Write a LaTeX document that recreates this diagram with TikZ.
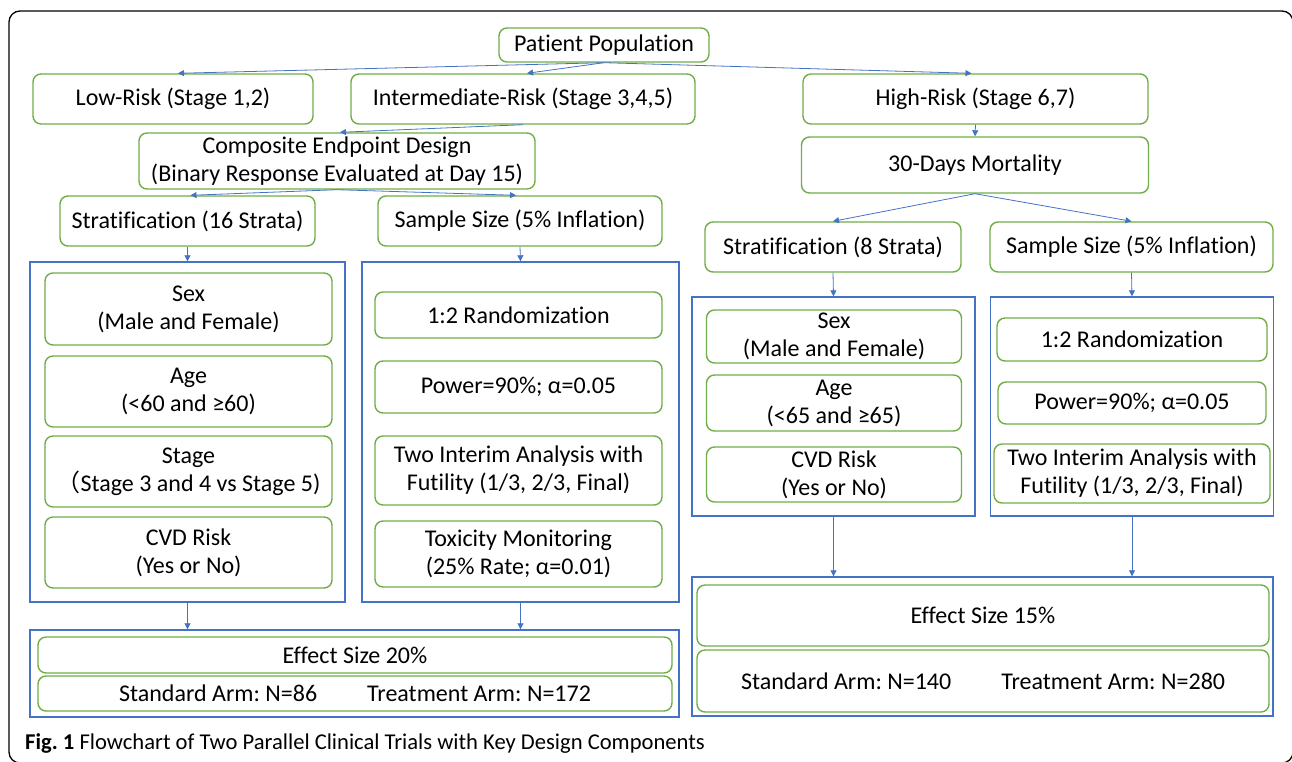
\documentclass[tikz,border=0pt]{standalone}
\usepackage{fontspec}
\setmainfont{Carlito}[Ligatures=NoCommon]
\newfontfamily\cjkfont{Noto Sans CJK SC}
\usetikzlibrary{arrows.meta}
\definecolor{gr}{RGB}{112,173,71}
\definecolor{bl}{RGB}{68,114,196}
\definecolor{ar}{RGB}{68,114,196}
\newcommand\diagfont{\fontsize{24}{28}\selectfont}
\newcommand\capfont{\fontsize{22.6}{25}\selectfont}
\frenchspacing
\tikzset{
  gbox/.style={draw=gr, line width=1.4pt, rounded corners=8pt, inner sep=0pt, align=center, font=\diagfont},
  bbox/.style={draw=bl, line width=1.4pt, inner sep=0pt},
  arr/.style={draw=ar, line width=0.8pt, -{Triangle[width=6pt,length=6pt]}},
}
\begin{document}
\begin{tikzpicture}[x=1pt,y=-1pt]
\useasboundingbox (0,0) rectangle (1292,761);
\draw[line width=1.3pt, rounded corners=11pt] (9,11) rectangle (1293,763);

% top level
\node[gbox, minimum width=210pt, minimum height=34pt] (pp) at (604,45) {Patient Population};
\node[gbox, minimum width=280pt, minimum height=50pt] (low) at (173,99) {Low-Risk (Stage 1,2)};
\node[gbox, minimum width=344pt, minimum height=50pt] (inter) at (523,99) {Intermediate-Risk (Stage 3,4,5)};
\node[gbox, minimum width=345pt, minimum height=50pt] (high) at (975.5,99) {High-Risk (Stage 6,7)};
\node[gbox, minimum width=396pt, minimum height=56pt] (comp) at (337,161) {Composite Endpoint Design\\(Binary Response Evaluated at Day 15)};
\node[gbox, minimum width=347pt, minimum height=56pt] (mort) at (975,165) {30-Days Mortality};
\node[gbox, minimum width=255pt, minimum height=50pt] (s16) at (187.5,221) {Stratification (16 Strata)};
\node[gbox, minimum width=284pt, minimum height=50pt] (ss1) at (520,221) {Sample Size (5\% Inflation)};
\node[gbox, minimum width=256pt, minimum height=50pt] (s8) at (833,247) {Stratification (8 Strata)};
\node[gbox, minimum width=283pt, minimum height=50pt] (ss2) at (1131.5,247) {Sample Size (5\% Inflation)};

% left blue boxes
\node[bbox, minimum width=315pt, minimum height=340pt] (b1) at (187.5,432) {};
\node[bbox, minimum width=317pt, minimum height=340pt] (b2) at (520.5,432) {};
\node[gbox, minimum width=287pt, minimum height=72pt] (sex1) at (188.5,309) {Sex\\(Male and Female)};
\node[gbox, minimum width=287pt, minimum height=71pt] (age1) at (188.5,391.5) {Age\\(<60 and ≥60)};
\node[gbox, minimum width=287pt, minimum height=71pt] (stage1) at (188.5,471.5) {Stage\\{\cjkfont （}Stage 3 and 4 vs Stage 5)};
\node[gbox, minimum width=287pt, minimum height=71pt] (cvd1) at (188.5,552.5) {CVD Risk\\(Yes or No)};
\node[gbox, minimum width=287pt, minimum height=46pt] (rand1) at (518.5,315) {1:2 Randomization};
\node[gbox, minimum width=287pt, minimum height=52pt] (pow1) at (518.5,387) {Power=90\%; α=0.05};
\node[gbox, minimum width=287pt, minimum height=69pt] (int1) at (518.5,470.5) {Two Interim Analysis with\\Futility (1/3, 2/3, Final)};
\node[gbox, minimum width=287pt, minimum height=66pt] (tox1) at (518.5,554) {Toxicity Monitoring\\(25\% Rate; α=0.01)};

% right blue boxes
\node[bbox, minimum width=283pt, minimum height=219pt] (r1) at (833.5,406.5) {};
\node[bbox, minimum width=283.5pt, minimum height=219pt] (r2) at (1132,406.5) {};
\node[gbox, minimum width=255pt, minimum height=53pt] (sex2) at (834,336.5) {Sex\\(Male and Female)};
\node[gbox, minimum width=255pt, minimum height=56pt] (age2) at (834,403) {Age\\(<65 and ≥65)};
\node[gbox, minimum width=255pt, minimum height=55pt] (cvd2) at (834,474.5) {CVD Risk\\(Yes or No)};
\node[gbox, minimum width=270pt, minimum height=43pt] (rand2) at (1132,339.5) {1:2 Randomization};
\node[gbox, minimum width=268pt, minimum height=42pt] (pow2) at (1132,403) {Power=90\%; α=0.05};
\node[gbox, minimum width=276pt, minimum height=59pt] (int2) at (1132,473.5) {Two Interim Analysis with\\Futility (1/3, 2/3, Final)};

% bottom boxes
\node[bbox, minimum width=649pt, minimum height=87pt] (bl) at (354.5,673.5) {};
\node[gbox, minimum width=634pt, minimum height=36pt] (eff1) at (355,655) {Effect Size 20\%};
\node[gbox, minimum width=634pt, minimum height=35pt] (arm1) at (355,693.5) {Standard Arm: N=86\hspace{50pt}Treatment Arm: N=172};
\node[bbox, minimum width=581pt, minimum height=139pt] (br) at (982.5,646.5) {};
\node[gbox, minimum width=572pt, minimum height=61pt] (eff2) at (983,615.5) {Effect Size 15\%};
\node[gbox, minimum width=572pt, minimum height=62pt] (arm2) at (983,681) {Standard Arm: N=140\hspace{50pt}Treatment Arm: N=280};

% caption
\node[anchor=west, inner sep=0pt, font=\capfont] (cap) at (25,743) {\textbf{Fig. 1} Flowchart of Two Parallel Clinical Trials with Key Design Components};

% connectors
\draw[arr] (pp.south) -- ([xshift=5pt]low.north);
\draw[arr] (pp.south) -- ([xshift=4pt]inter.north);
\draw[arr] (pp.south) -- ([xshift=-4pt]high.north);
\draw[arr] (high.south) -- (mort.north);
\draw[arr] (inter.south) -- ([xshift=3pt]comp.north);
\draw[arr] (comp.south) -- ([xshift=3pt]s16.north);
\draw[arr] (comp.south) -- ([xshift=-4pt]ss1.north);
\draw[arr] (s16.south) -- (b1.north);
\draw[arr] (ss1.south) -- (b2.north);
\draw[arr] (mort.south) -- (s8.north);
\draw[arr] (mort.south) -- (ss2.north);
\draw[arr] (s8.south) -- (r1.north);
\draw[arr] (ss2.south) -- (r2.north);
\draw[arr] (b1.south) -- (b1.south |- bl.north);
\draw[arr] (b2.south) -- (b2.south |- bl.north);
\draw[arr] (r1.south) -- (r1.south |- br.north);
\draw[arr] (r2.south) -- (r2.south |- br.north);
\end{tikzpicture}
\end{document}
